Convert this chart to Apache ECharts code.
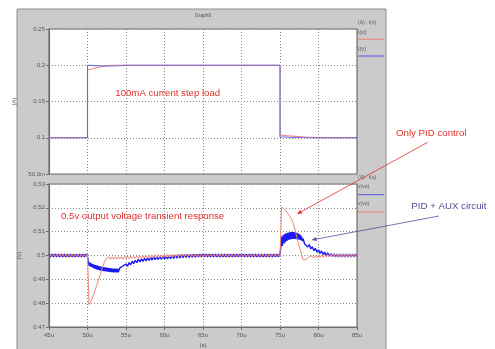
<!DOCTYPE html>
<html>
<head>
<meta charset="utf-8">
<script src="https://cdn.jsdelivr.net/npm/echarts@6/dist/echarts.min.js"></script>
<style>
  html, body { margin: 0; padding: 0; background: #ffffff; }
  #c { width: 495px; height: 349px; }
</style>
</head>
<body>
<div id="c"></div>
<script>
// ---- axis tick labels ----
const timeTicks = ['45u', '50u', '55u', '60u', '65u', '70u', '75u', '80u', '85u'];
const currentTicks = ['50.0m', '0.1', '0.15', '0.2', '0.25'];
const voltageTicks = ['0.47', '0.48', '0.49', '0.5', '0.51', '0.52', '0.53'];

// ---- load current (A) vs time (us) ----
const iPidTime = [45, 50, 50, 50.5, 51, 51.5, 52, 52.5, 53, 75, 75, 75.5, 76, 77, 78, 79, 80, 85];
const iPid     = [0.1, 0.1, 0.1935, 0.1948, 0.196, 0.1972, 0.1983, 0.1992, 0.2, 0.2, 0.1037, 0.1032, 0.1027, 0.102, 0.1012, 0.1006, 0.1002, 0.1];
const iAuxTime = [45, 50, 50, 51, 52, 53, 54, 55, 75, 75, 75.5, 76, 77, 78, 80, 85];
const iAux     = [0.1, 0.1, 0.2, 0.1995, 0.199, 0.199, 0.1993, 0.2, 0.2, 0.1012, 0.101, 0.1008, 0.1005, 0.1003, 0.1, 0.1];

// ---- output voltage with PID only (V), every 0.2 us from 45 us ----
const vPid = [
  0.4994,0.5006,0.4994,0.5006,0.4994,0.5006,0.4994,0.5006,0.4994,0.5006,
  0.4994,0.5006,0.4994,0.5006,0.4994,0.5006,0.4994,0.5006,0.4994,0.5006,
  0.4994,0.5006,0.4994,0.5006,0.4994,0.5006,
  0.4795,0.4805,0.4820,0.4837,0.4856,0.4875,0.4895,0.4915,0.4935,0.4955,
  0.4972,0.4986,
  0.4984,0.4994,0.4984,0.4994,0.4984,0.4995,0.4985,0.4995,0.4985,0.4995,
  0.4985,0.4996,0.4986,0.4996,0.4986,0.4997,0.4987,0.4997,0.4987,0.4998,
  0.4988,0.4998,0.4988,0.4999,0.4989,0.4999,0.4989,0.5000,0.4990,0.5001,
  0.4991,0.5002,0.4991,0.5003,0.4992,0.5003,0.4992,0.5004,0.4993,0.5004,
  0.4993,0.5005,0.4993,0.5005,0.4994,0.5005,0.4994,0.5006,
  0.4994,0.5006,0.4994,0.5006,0.4994,0.5006,0.4994,0.5006,0.4994,0.5006,
  0.4994,0.5006,0.4994,0.5006,0.4994,0.5006,0.4994,0.5006,0.4994,0.5006,
  0.4994,0.5006,0.4994,0.5006,0.4994,0.5006,0.4994,0.5006,0.4994,0.5006,
  0.4994,0.5006,0.4994,0.5006,0.4994,0.5006,0.4994,0.5006,0.4994,0.5006,
  0.4994,0.5006,0.4994,0.5006,0.4994,0.5006,0.4994,0.5006,0.4994,0.5006,
  0.4994,0.5006,0.4994,0.5006,0.4994,0.5006,0.4994,0.5006,0.4994,0.5006,
  0.4994,0.5006,0.4994,0.5006,0.4994,
  0.5203,0.5200,0.5194,0.5186,0.5177,0.5168,0.5158,0.5146,0.5127,0.5102,
  0.5075,0.5048,0.5028,0.5005,0.4982,0.4976,0.4983,0.4986,0.4996,0.4988,
  0.4998,0.4989,0.4999,0.4990,0.5001,0.4991,0.5002,0.4992,0.5004,0.4993,
  0.5005,0.4994,
  0.5006,0.4994,0.5006,0.4994,0.5006,0.4994,0.5006,0.4994,0.5006,0.4994,
  0.5006,0.4994,0.5006,0.4994,0.5006,0.4994,0.5006,0.4994
];

// ---- output voltage with PID + AUX circuit (V), in pieces ----
// 45.0 .. 50.0 us, every 0.2 us
const vAuxPre = [
  0.5006,0.4994,0.5006,0.4994,0.5006,0.4994,0.5006,0.4994,0.5006,0.4994,
  0.5006,0.4994,0.5006,0.4994,0.5006,0.4994,0.5006,0.4994,0.5006,0.4994,
  0.5006,0.4994,0.5006,0.4994,0.5006,0.4994
];
// 50.1 .. 54.0 us, every 0.1 us (load step up)
const vAuxDip = [
  0.4975,0.4957,0.4971,0.4953,0.4967,0.4950,0.4964,0.4947,0.4961,0.4944,
  0.4959,0.4942,0.4957,0.4940,0.4955,0.4938,0.4953,0.4937,0.4952,0.4935,
  0.4951,0.4934,0.4950,0.4933,0.4949,0.4932,0.4948,0.4931,0.4947,0.4930,
  0.4946,0.4930,0.4945,0.4929,0.4945,0.4929,0.4945,0.4929,0.4945,0.4930
];
// 54.2 .. 75.0 us, every 0.2 us
const vAuxRecover = [
  0.4948,0.4940,0.4956,0.4948,0.4964,0.4955,0.4970,0.4961,0.4976,0.4966,
  0.4980,0.4970,0.4984,0.4973,0.4986,0.4975,0.4988,0.4977,0.4990,0.4979,
  0.4992,0.4981,0.4994,0.4982,0.4995,0.4983,0.4996,0.4984,0.4997,0.4985,
  0.4998,0.4986,0.4999,0.4987,0.5000,0.4988,0.5001,0.4989,0.5002,0.4990,
  0.5003,0.4991,0.5003,0.4992,0.5004,0.4992,0.5004,0.4993,0.5005,0.4993,
  0.5005,0.4994,0.5006,0.4994,
  0.5006,0.4994,0.5006,0.4994,0.5006,0.4994,0.5006,0.4994,0.5006,0.4994,
  0.5006,0.4994,0.5006,0.4994,0.5006,0.4994,0.5006,0.4994,0.5006,0.4994,
  0.5006,0.4994,0.5006,0.4994,0.5006,0.4994,0.5006,0.4994,0.5006,0.4994,
  0.5006,0.4994,0.5006,0.4994,0.5006,0.4994,0.5006,0.4994,0.5006,0.4994,
  0.5006,0.4994,0.5006,0.4994,0.5006,0.4994,0.5006,0.4994,0.5006,0.4994,
  0.5006
];
// 75.1 .. 78.0 us, every 0.1 us (load step down)
const vAuxBump = [
  0.5033,0.5080,0.5040,0.5085,0.5050,0.5090,0.5056,0.5093,0.5061,0.5095,
  0.5065,0.5097,0.5067,0.5098,0.5069,0.5098,0.5070,0.5098,0.5070,0.5097,
  0.5069,0.5095,0.5068,0.5092,0.5066,0.5088,0.5064,0.5080,0.5061,0.5070
];
// 78.2 .. 85.0 us, every 0.2 us
const vAuxSettle = [
  0.5048,0.5056,0.5036,0.5046,0.5028,0.5037,0.5020,0.5030,0.5014,0.5024,
  0.5009,0.5019,0.5004,0.5014,0.5000,0.5011,0.4997,0.5008,0.4995,0.5007,
  0.4994,0.5006,0.4994,0.5006,0.4994,0.5006,0.4994,0.5006,0.4994,0.5006,
  0.4994,0.5006,0.4994,0.5006,0.4994
];

// arrow targets on the voltage plot (time us, volts)
const pidArrowTarget = [77.2, 0.5174];
const auxArrowTarget = [79.1, 0.5065];

const FONT = '"Liberation Sans", Arial, sans-serif';
const RED = '#ee8478';
const BLUE = '#1a1af2';

function pairs(times, values) {
  return values.map((v, i) => [times[i], v]);
}
function sampled(start, step, values) {
  return values.map((v, i) => [+(start + i * step).toFixed(1), v]);
}

const vPidData = sampled(45, 0.2, vPid);
const vAuxData = [].concat(
  sampled(45, 0.2, vAuxPre),
  sampled(50.1, 0.1, vAuxDip),
  sampled(54.2, 0.2, vAuxRecover),
  sampled(75.1, 0.1, vAuxBump),
  sampled(78.2, 0.2, vAuxSettle)
);

const chart = echarts.init(document.getElementById('c'), null, { renderer: 'canvas' });

const dotted = { show: true, lineStyle: { color: '#8a8a8a', width: 1, type: [1, 2] } };
const tickLabel = { color: '#555', fontSize: 6, fontFamily: FONT };

function timeAxis(gridIndex, withLabels) {
  return {
    gridIndex, type: 'value', min: 45, max: 85, interval: 5,
    axisLine: { show: withLabels, lineStyle: { color: '#6e6e6e', width: 1.2 } },
    axisTick: { show: withLabels, length: 3, lineStyle: { color: '#6e6e6e' } },
    axisLabel: withLabels
      ? Object.assign({ margin: 5, formatter: (v, i) => timeTicks[i] }, tickLabel)
      : { show: false },
    splitLine: dotted,
    name: withLabels ? '(s)' : '',
    nameLocation: 'middle', nameGap: 15,
    nameTextStyle: { color: '#555', fontSize: 6, fontFamily: FONT }
  };
}

function valueAxis(gridIndex, min, max, interval, labels, name) {
  return {
    gridIndex, type: 'value', min, max, interval,
    axisLine: { show: true, lineStyle: { color: '#6e6e6e', width: 1.2 } },
    axisTick: { show: true, length: 3, lineStyle: { color: '#6e6e6e' } },
    axisLabel: Object.assign({ margin: 4, formatter: (v, i) => labels[i] }, tickLabel),
    splitLine: dotted,
    name, nameLocation: 'middle', nameGap: 26, nameRotate: 90,
    nameTextStyle: { color: '#555', fontSize: 6, fontFamily: FONT }
  };
}

function txt(x, y, text, size, fill, align) {
  return {
    type: 'text', x, y, z: 50,
    style: { text, fill, font: size + 'px ' + FONT, textAlign: align || 'left', textVerticalAlign: 'middle' }
  };
}
function seg(x1, y1, x2, y2, stroke, w) {
  return { type: 'line', z: 50, shape: { x1, y1, x2, y2 }, style: { stroke, lineWidth: w || 1 } };
}

const panel = [
  { type: 'rect', z: -10, shape: { x: 17, y: 9, width: 369, height: 345 },
    style: { fill: '#cbcbcb', stroke: '#8e8e8e', lineWidth: 1 } },
  txt(203, 15.5, 'Graph0', 5, '#555', 'center'),
  // legend of the current plot
  txt(358, 22.5, '(A) : t(s)', 5, '#555'),
  txt(358, 32.5, 'I(vi)', 5, '#555'),
  seg(358, 39.3, 384, 39.3, RED, 1),
  txt(358, 49.5, 'I(V)', 5, '#555'),
  seg(358, 56, 384, 56, '#5555e0', 1),
  // legend of the voltage plot
  txt(358, 177.5, '(V) : t(s)', 5, '#555'),
  txt(358, 186.5, 'v(vo)', 5, '#555'),
  seg(358, 194.7, 384, 194.7, '#5555e0', 1),
  txt(358, 204, 'v(vo)', 5, '#555'),
  seg(358, 212, 384, 212, RED, 1),
  // annotations
  txt(115.3, 93.3, '100mA current step load', 9.65, '#e0302a'),
  txt(61, 216.7, '0.5v output voltage transient response', 9.65, '#e0302a'),
  txt(396, 133.7, 'Only PID control', 9.7, '#e0302a'),
  txt(411.3, 206, 'PID + AUX circuit', 9.7, '#50509c')
];

chart.setOption({
  animation: false,
  backgroundColor: '#ffffff',
  grid: [
    { left: 49, top: 29, width: 308, height: 145, show: true, backgroundColor: '#ffffff', borderColor: '#707070', borderWidth: 1.2 },
    { left: 49, top: 184, width: 308, height: 145, show: true, backgroundColor: '#ffffff', borderColor: '#707070', borderWidth: 1.2 }
  ],
  xAxis: [timeAxis(0, false), timeAxis(1, true)],
  yAxis: [
    valueAxis(0, 0.05, 0.25, 0.05, currentTicks, '(A)'),
    valueAxis(1, 0.47, 0.53, 0.01, voltageTicks, '(V)')
  ],
  series: [
    { name: 'I(vi)', type: 'line', xAxisIndex: 0, yAxisIndex: 0, data: pairs(iPidTime, iPid),
      symbol: 'none', lineStyle: { color: RED, width: 1 } },
    { name: 'I(V)', type: 'line', xAxisIndex: 0, yAxisIndex: 0, data: pairs(iAuxTime, iAux),
      symbol: 'none', lineStyle: { color: '#5a5ae4', width: 1.1, opacity: 0.85 } },
    { name: 'v(vo) aux', type: 'line', xAxisIndex: 1, yAxisIndex: 1, data: vAuxData,
      symbol: 'none', lineStyle: { color: BLUE, width: 1.4 } },
    { name: 'v(vo) pid', type: 'line', xAxisIndex: 1, yAxisIndex: 1, data: vPidData,
      symbol: 'none', lineStyle: { color: RED, width: 1 } }
  ],
  graphic: panel
});

// arrows from the callout labels to their curves
function arrow(from, target, color) {
  const to = chart.convertToPixel({ gridIndex: 1 }, target);
  const dx = to[0] - from[0], dy = to[1] - from[1];
  const len = Math.sqrt(dx * dx + dy * dy);
  const ux = dx / len, uy = dy / len;
  const hl = 5, hw = 2;
  const bx = to[0] - ux * hl, by = to[1] - uy * hl;
  return [
    seg(from[0], from[1], bx, by, color, 0.8),
    { type: 'polygon', z: 50,
      shape: { points: [to, [bx - uy * hw, by + ux * hw], [bx + uy * hw, by - ux * hw]] },
      style: { fill: color } }
  ];
}
chart.setOption({
  graphic: panel
    .concat(arrow([427.7, 142.3], pidArrowTarget, '#e0302a'))
    .concat(arrow([439, 216], auxArrowTarget, '#50509c'))
});
</script>
</body>
</html>
